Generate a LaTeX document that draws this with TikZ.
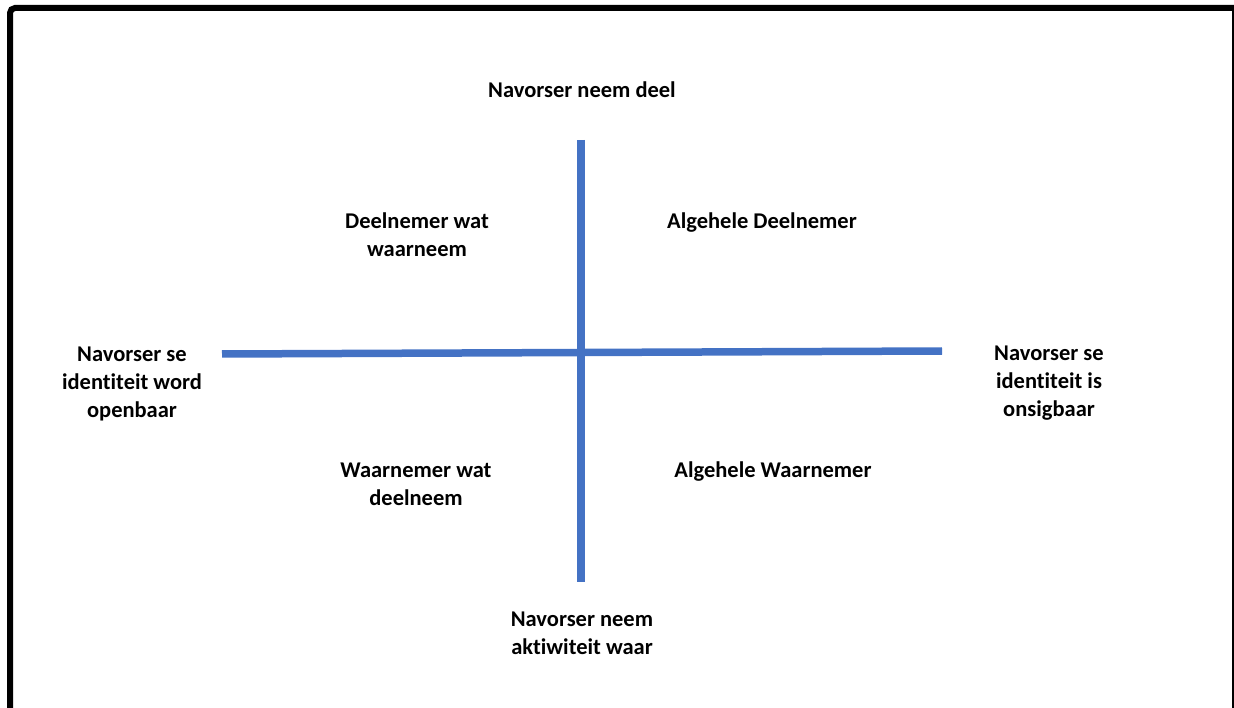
\documentclass[tikz,border=0pt]{standalone}
\usepackage{fontspec}
\setmainfont{Carlito}[RawFeature={-liga;-clig;-calt;-dlig}]
\definecolor{axisblue}{HTML}{4472C4}
% keep "t" and "i" as separate glyphs
\newcommand{\tsep}{t\kern0pt i}
\begin{document}
\begin{tikzpicture}[x=1pt,y=-1pt,
  lbl/.style={font=\fontsize{22.5}{28}\selectfont\bfseries, align=center, inner sep=0pt, text=black},
  axis/.style={draw=axisblue, line width=7.5pt},
  frame/.style={draw=black, line width=6pt, rounded corners=5pt}]
  \useasboundingbox (0,0) rectangle (1234,708);
  % outer frame (left and top, thin right edge)
  \draw[frame] (10,712) -- (10,8) -- (1240,8);
  \fill[black] (1231.5,8) rectangle (1234,708);

  % axis end points
  \coordinate (west) at (222,354);
  \coordinate (east) at (942,351);
  \coordinate (north) at (581,140);
  \coordinate (south) at (581,582);
  \draw[axis] (west) -- (east);
  \draw[axis] (north) -- (south);

  % labels
  \node[lbl] (top) at (582,90) {Navorser neem deel};
  \node[lbl] (bottom) at (582,633) {Navorser neem\\ak\tsep witeit waar};
  \node[lbl] (left) at (132,384) {Navorser se\\iden\tsep teit word\\openbaar};
  \node[lbl] (right) at (1049,383) {Navorser se\\iden\tsep teit is\\onsigbaar};
  \node[lbl] (nw) at (417,235) {Deelnemer wat\\waarneem};
  \node[lbl] (ne) at (762,223) {Algehele Deelnemer};
  \node[lbl] (sw) at (416,484) {Waarnemer wat\\deelneem};
  \node[lbl] (se) at (773,472) {Algehele Waarnemer};
\end{tikzpicture}
\end{document}
